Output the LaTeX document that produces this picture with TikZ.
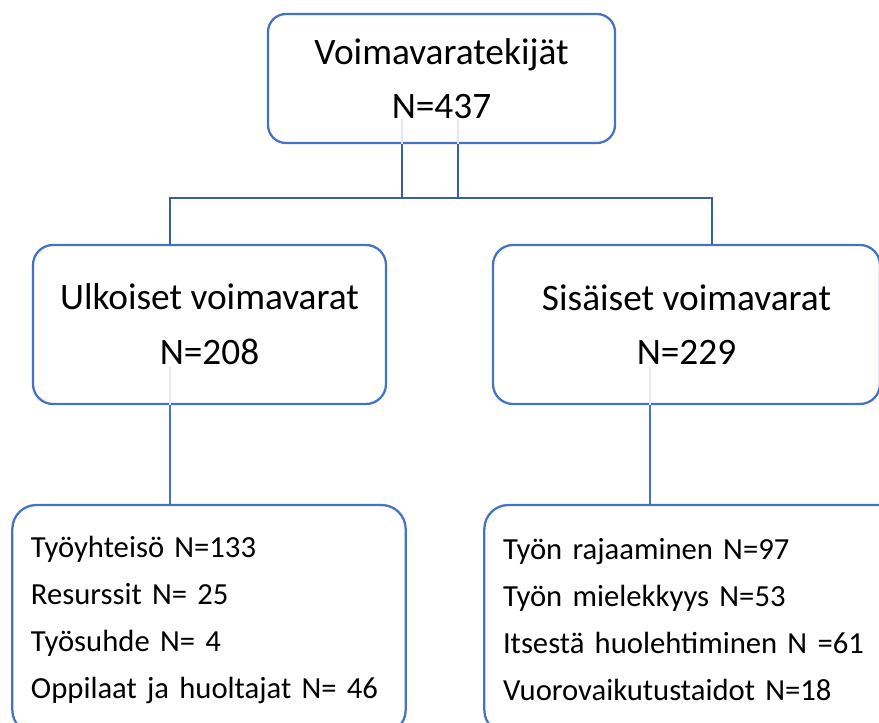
\documentclass[tikz,border=0pt]{standalone}
\usepackage{fontspec}
\setmainfont{Carlito}
\definecolor{boxblue}{HTML}{4472C4}
\definecolor{linkblue}{HTML}{3A5DA6}
\definecolor{ghostblue}{HTML}{E3E8F2}
\tikzset{
  box/.style={draw=boxblue, line width=1.7pt, inner sep=0pt},
  headbox/.style={box, align=center, font=\fontsize{28}{41}\selectfont},
  listbox/.style={box, rounded corners=18pt, align=left, inner xsep=14pt,
    font=\fontsize{23}{35.25}\selectfont, minimum height=171.75pt},
  link/.style={draw=linkblue, line width=1.5pt},
  stem/.style={draw=boxblue, line width=1.4pt},
  ghost/.style={draw=ghostblue, line width=1.4pt}
}
\begin{document}
      \begin{tikzpicture}[x=0.75pt,y=-0.75pt]
        \useasboundingbox (0,0) rectangle (879,722);
        \clip (0,0) rectangle (879,722);
        \node[headbox, rounded corners=13.5pt, minimum width=260.25pt, minimum height=96.75pt]
          (top) at (441.5,78.5) {Voimavaratekijät\\N=437};
        \node[headbox, rounded corners=15pt, minimum width=264.75pt, minimum height=119.25pt]
          (ulk) at (209.5,324.5) {Ulkoiset voimavarat\\N=208};
        \node[headbox, rounded corners=15pt, minimum width=290.25pt, minimum height=119.25pt]
          (sis) at (686.5,324.5) {Sisäiset voimavarat\\N=229};
        \node[listbox, text width=267pt] (ulklist) at (209,619.5)
          {Työyhteisö N=133\\Resurssit N= 25\\Työsuhde N= 4\\Oppilaat ja huoltajat N= 46};
        \node[listbox, text width=288pt] (sislist) at (695,619.5)
          {Työn rajaaminen N=97\\Työn mielekkyys N=53\\Itsestä huolehtiminen N =61\\Vuorovaikutustaidot N=18};
        \coordinate (jL) at (402,198);
        \coordinate (jR) at (458,198);
        \coordinate (bL) at (170,198);
        \coordinate (bR) at (712,198);
        \coordinate (dR) at (650,450);
        \draw[ghost] (top.south -| jL) -- ++(0,-25);
        \draw[ghost] (top.south -| jR) -- ++(0,-25);
        \draw[ghost] (ulk.south -| bL) -- ++(0,-38);
        \draw[ghost] (sis.south -| dR) -- ++(0,-38);
        \draw[link] (top.south -| jL) -- (jL) -- (jR) -- (top.south -| jR);
        \draw[link] (ulk.north -| bL) -- (bL) -- (bR) -- (sis.north -| bR);
        \draw[stem] (ulk.south -| bL) -- (ulklist.north -| bL);
        \draw[stem] (sis.south -| dR) -- (sislist.north -| dR);
      \end{tikzpicture}
\end{document}
